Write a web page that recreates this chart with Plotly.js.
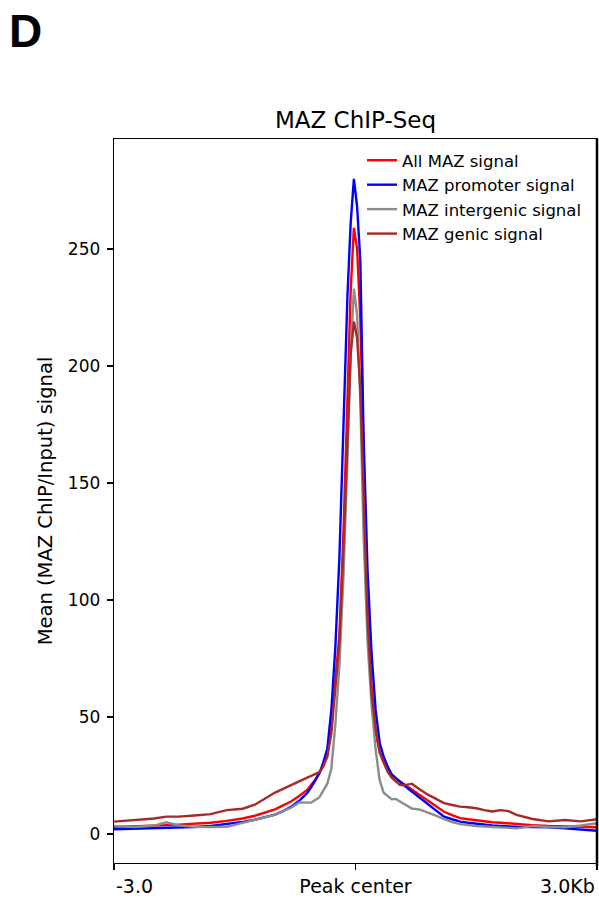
<!DOCTYPE html>
<html>
<head>
<meta charset="utf-8">
<script src="https://cdn.plot.ly/plotly-3.0.1.min.js"></script>
<style>html,body{margin:0;padding:0;background:#fff;}#chart{width:599px;height:898px;}</style>
</head>
<body>
<div id="chart"></div>
<script>
// Distance from peak center (bp)
const positions = [-3000,-2750,-2500,-2350,-2200,-2000,-1800,-1600,-1500,-1400,-1250,-1100,-1000,-900,-800,-700,-600,-550,-500,-450,-400,-350,-300,-250,-200,-150,-100,-60,-20,
  20,60,100,150,200,250,300,350,400,450,500,550,600,700,800,900,1000,1100,1200,1300,1400,1500,1600,1700,1800,1900,2000,2200,2400,2600,2800,3000];

const allSignal = [3.0,3.2,3.5,3.8,4.0,4.4,4.8,5.6,6.0,6.6,7.8,9.4,10.5,12.2,13.9,16.2,18.8,21.0,23.2,26.0,29,34,45,66,85,128,190,232,259,
  250,220,162,97,62,44,35,30.5,27.2,24.9,23.7,22.5,21.2,18.9,16.6,14.3,11.8,9.5,8.1,6.8,6.3,5.8,5.3,5.0,4.8,4.5,4.3,3.8,3.4,3.2,2.9,2.9];

const promoterSignal = [2.0,2.2,2.4,2.5,2.7,3.0,3.4,4.2,4.7,5.2,6.1,7.3,8.3,9.8,11.6,14.2,17.5,20.0,22.8,25.8,30.6,36.5,53,80,118,171,230,261,280,
  268,245,170,112,77,53,39,33,28.8,25.5,24,22.4,20.9,18.1,15.5,12.9,10.1,7.4,6.3,5.3,4.8,4.3,3.8,3.6,3.4,3.2,3.1,3.0,2.9,2.4,1.8,1.4];

const intergenicSignal = [3.4,3.0,3.6,5.0,3.7,3.1,3.0,3.1,3.9,4.8,6.1,7.3,8.2,9.8,11.2,13.5,13.6,13.4,14.5,15.6,18.5,21.5,28,47,72,110,160,205,233,
  222,185,128,82,55,36,23,17.6,16.0,14.8,15.0,14.0,12.8,10.9,10.4,9.2,7.8,6.4,5.1,4.2,3.7,3.4,3.2,3.1,2.9,2.6,2.4,3.4,3.0,2.9,3.6,4.6];

const genicSignal = [5.3,5.8,6.6,7.4,7.4,7.9,8.5,10.2,10.4,10.8,12.5,15.5,17.7,19.3,21.0,22.7,24.1,24.8,25.5,26.4,29,33,43,62,82,122,170,205,219,
  212,190,150,92,60,45,35,30.5,26.5,24.0,22.5,21.0,20.8,21.5,19.0,16.8,15.0,13.2,12.4,11.7,11.4,11.0,10.2,9.6,10.2,9.8,8.2,6.4,5.4,6.0,5.4,6.3];

const seriesNames = ['All MAZ signal','MAZ promoter signal','MAZ intergenic signal','MAZ genic signal'];
const seriesColors = ['#ff0000','#0000ff','#8c8c8c','#a52a2a'];
const seriesValues = [allSignal, promoterSignal, intergenicSignal, genicSignal];

const yTicks = [0,50,100,150,200,250];
const xTickVals = [-3000, 0, 3000];
const xTickText = ['-3.0','Peak center','3.0Kb'];

const FONT = 'DejaVu Sans, sans-serif';

const traces = seriesNames.map((n,i)=>({
  type:'scatter', mode:'lines', name:n, x:positions, y:seriesValues[i],
  line:{color:seriesColors[i], width:2.4}
}));

const layout = {
  width:599, height:898,
  margin:{l:114, r:2, t:139, b:35},
  paper_bgcolor:'#fff', plot_bgcolor:'#fff',
  showlegend:true,
  font:{family:FONT, color:'#000'},
  title:{text:'MAZ ChIP-Seq', font:{family:FONT, size:23, color:'#000'}, x:0.5, xref:'paper', xanchor:'center', y:1-120/898, yref:'container', yanchor:'middle'},
  xaxis:{range:[-3000,3000], tickvals:xTickVals, ticktext:['', xTickText[1], ''], ticks:'outside', ticklen:6, tickwidth:1.3, tickcolor:'#000',
    showline:true, linecolor:'#000', linewidth:1.3, mirror:true, showgrid:false, zeroline:false, tickfont:{family:FONT,size:19,color:'#000'}, fixedrange:true},
  yaxis:{range:[-12.4,297], tickvals:yTicks, ticks:'outside', ticklen:6, tickwidth:1.3, tickcolor:'#000', ticklabelstandoff:3,
    showline:true, linecolor:'#000', linewidth:1.3, mirror:true, showgrid:false, zeroline:false, tickfont:{family:FONT,size:17,color:'#000'},
    title:{text:'Mean (MAZ ChIP/Input) signal', font:{family:FONT,size:19.5,color:'#000'}, standoff:10}, automargin:false},
  legend:{x:(362-114)/483, xanchor:'left', y:(863-143)/724, yanchor:'top', bgcolor:'rgba(0,0,0,0)', borderwidth:0,
    font:{family:FONT,size:16.5,color:'#000'}, itemwidth:30, tracegroupgap:0},
  shapes:[
    {type:'line', xref:'paper', yref:'paper', x0:1, x1:1, y0:-0.004, y1:1, line:{color:'#000', width:2.5}}
  ],
  annotations:[
    {text:xTickText[0], xref:'x', x:xTickVals[0], yref:'paper', y:-23/724, xanchor:'left', yanchor:'middle', showarrow:false, font:{family:FONT,size:19,color:'#000'}},
    {text:xTickText[2], xref:'x', x:xTickVals[2], yref:'paper', y:-23/724, xanchor:'right', yanchor:'middle', showarrow:false, font:{family:FONT,size:19,color:'#000'}},
    {text:'<b>D</b>', xref:'paper', x:(7-114)/483, xanchor:'left', yref:'paper', y:(863-3)/724, yanchor:'top', showarrow:false, font:{family:'Liberation Sans, Arial, sans-serif', size:46, color:'#000'}}
  ]
};

Plotly.newPlot('chart', traces, layout, {displayModeBar:false, staticPlot:true});
</script>
</body>
</html>
